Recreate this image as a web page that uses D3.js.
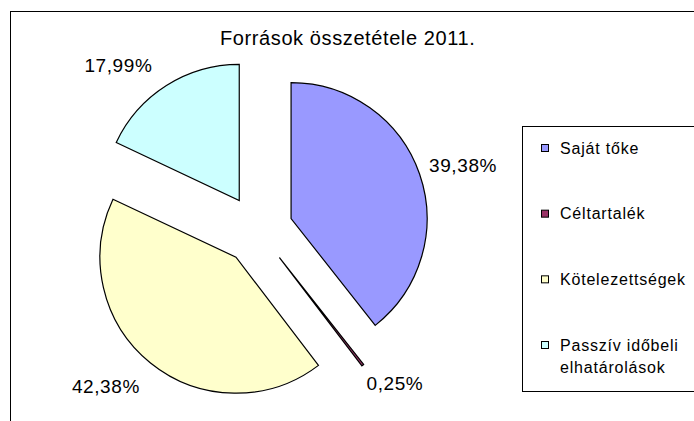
<!DOCTYPE html>
<html>
<head>
<meta charset="utf-8">
<script src="https://cdn.jsdelivr.net/npm/d3@7"></script>
<style>
  body { margin: 0; background: #fff; }
  text { font-family: "Liberation Sans", Arial, sans-serif; fill: #000; }
</style>
</head>
<body>
<svg id="chart" width="694" height="421"></svg>
<script>
const width = 694,
  height = 421;

// chart data
const categories = ["Saját tőke", "Céltartalék", "Kötelezettségek", "Passzív időbeli elhatárolások"];
const legendLines = [["Saját tőke"], ["Céltartalék"], ["Kötelezettségek"], ["Passzív időbeli", "elhatárolások"]];
const values = [39.38, 0.25, 42.38, 17.99];
const valueLabels = ["39,38%", "0,25%", "42,38%", "17,99%"];
const colors = ["#9999FF", "#993366", "#FFFFCC", "#CCFFFF"];
const title = "Források összetétele 2011.";

// layout
const cx = 258,
  cy = 230,
  radius = 136,
  explode = 35;
// per-label nudge from the default spot outside each slice
const labelNudge = [[17, 0], [15, -4], [-27, 1], [-33, 3]];

const svg = d3.select("#chart");

// outer chart border (cropped on right and bottom)
svg.append("rect")
  .attr("x", 10.5).attr("y", 11.5)
  .attr("width", 800).attr("height", 500)
  .attr("fill", "none").attr("stroke", "#000");

svg.append("text")
  .attr("x", 220).attr("y", 45)
  .attr("font-size", 20)
  .attr("letter-spacing", 0.6)
  .text(title);

const pie = d3.pie().sort(null).value((d) => d);
const arcs = pie(values);
const arc = d3.arc().innerRadius(0).outerRadius(radius);

function dir(d) {
  const a = (d.startAngle + d.endAngle) / 2;
  return [Math.sin(a), -Math.cos(a)];
}

const g = svg.append("g").attr("transform", `translate(${cx},${cy})`);

g.selectAll("path.slice")
  .data(arcs)
  .join("path")
  .attr("class", "slice")
  .attr("transform", (d) => {
    const [dx, dy] = dir(d);
    return `translate(${dx * explode},${dy * explode})`;
  })
  .attr("d", arc)
  .attr("fill", (d, i) => colors[i])
  .attr("stroke", "#000")
  .attr("stroke-width", 1.2)
  .attr("stroke-linejoin", "miter");

// data labels
g.selectAll("text.lbl")
  .data(arcs)
  .join("text")
  .attr("class", "lbl")
  .attr("font-size", 19)
  .attr("letter-spacing", 0.6)
  .attr("text-anchor", "middle")
  .attr("x", (d, i) => dir(d)[0] * (explode + radius + 28) + labelNudge[i][0])
  .attr("y", (d, i) => dir(d)[1] * (explode + radius + 28) + labelNudge[i][1] + 7)
  .text((d, i) => valueLabels[i]);

// legend
const legend = svg.append("g");
legend.append("rect")
  .attr("x", 522.5).attr("y", 126.5)
  .attr("width", 200).attr("height", 265)
  .attr("fill", "#fff").attr("stroke", "#000");

const legendY = d3.scalePoint().domain(categories).range([148, 345]);

const item = legend.selectAll("g.item")
  .data(categories)
  .join("g")
  .attr("class", "item")
  .attr("transform", (d) => `translate(0,${legendY(d)})`);

item.append("rect")
  .attr("x", 541.5).attr("y", -3.5)
  .attr("width", 7).attr("height", 7)
  .attr("fill", (d, i) => colors[i])
  .attr("stroke", "#000");

item.append("text")
  .attr("x", 560)
  .attr("y", 5.5)
  .attr("font-size", 16)
  .attr("letter-spacing", 0.8)
  .selectAll("tspan")
  .data((d, i) => legendLines[i])
  .join("tspan")
  .attr("x", 560)
  .attr("dy", (d, j) => (j === 0 ? 0 : 22))
  .text((d) => d);
</script>
</body>
</html>
